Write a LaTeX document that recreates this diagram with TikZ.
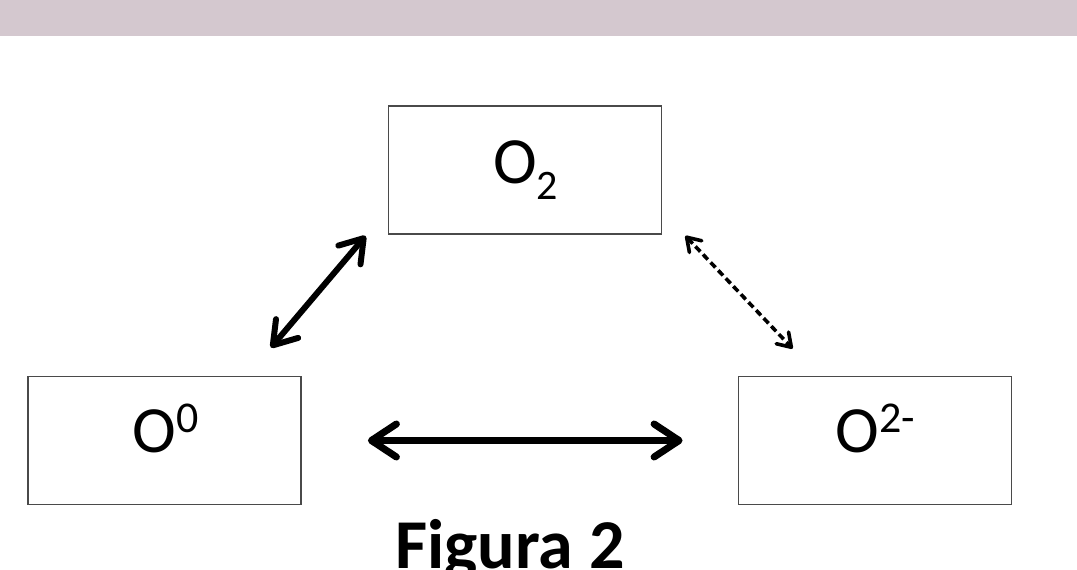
\documentclass[tikz,border=0pt]{standalone}
\usepackage{fontspec}
\setmainfont{Carlito}
\usetikzlibrary{arrows.meta,calc}
\definecolor{band}{HTML}{D4C8CF}
\definecolor{boxline}{HTML}{4A4A4A}
\tikzset{
  bigtip/.tip={Straight Barb[length=25pt,width=33pt,line cap=round,line join=round]},
  midtip/.tip={Straight Barb[length=22pt,width=29pt,line cap=round,line join=round]},
  smalltip/.tip={Straight Barb[length=13pt,width=17pt,line cap=round,line join=round]},
}
\begin{document}
\begin{tikzpicture}[x=1pt,y=-1pt,
  box/.style={draw=boxline,line width=1.8pt,minimum width=273pt,minimum height=128pt,inner sep=0pt,fill=white},
  lbl/.style={anchor=base,inner sep=0pt,font=\fontsize{66}{66}\selectfont},
  solidlink/.style={line width=6pt,{midtip}-{midtip}},
  hlink/.style={line width=7pt,{bigtip}-{bigtip}},
  dashlink/.style={line width=3.6pt,dash pattern=on 7pt off 4pt,{smalltip}-{smalltip}},
]
\useasboundingbox (0,0) rectangle (1077,570);
\clip (0,0) rectangle (1077,570);
\fill[band] (0,0) rectangle (1077,36);
\node[box] (o2) at (525,170) {};
\node[box] (o0) at (164.5,440.5) {};
\node[box] (o2m) at (875,440.5) {};
\node[lbl] (t2) at (525.5,183) {O\raisebox{-16pt}{\fontsize{42}{42}\selectfont 2}};
\node[lbl] (t0) at (165.5,452) {O\raisebox{20pt}{\fontsize{44}{44}\selectfont 0}};
\node[lbl] (t2m) at (875.5,452) {O\raisebox{20pt}{\fontsize{44}{44}\selectfont 2-}};
\draw[solidlink] ([xshift=-31pt,yshift=28pt]o0.north east) -- ([xshift=-22pt,yshift=-1pt]o2.south west);
\draw[dashlink] ([xshift=23pt,yshift=-1pt]o2.south east) -- ([xshift=55pt,yshift=27pt]o2m.north west);
\draw[hlink] ([xshift=66pt]o0.east) -- ([xshift=-55pt]o2m.west);
\node[anchor=base,inner sep=0pt,font=\bfseries\fontsize{70}{70}\selectfont] (cap) at (510,568) {Figura 2};
\end{tikzpicture}
\end{document}
